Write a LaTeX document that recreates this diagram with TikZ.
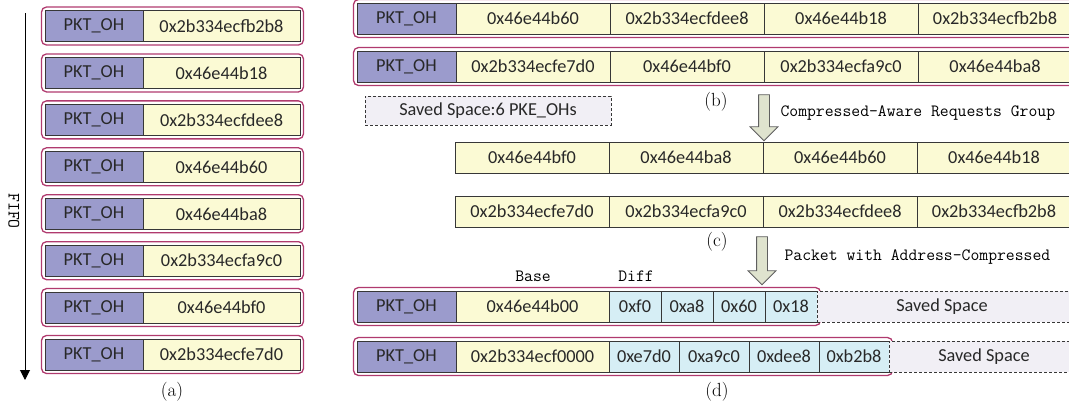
\documentclass[tikz,border=0pt]{standalone}
\usepackage{fontspec}
\newfontfamily\cellfont{Carlito}
\usetikzlibrary{arrows.meta, positioning, fit, shapes.arrows}

\definecolor{pktblue}{RGB}{155,155,204}
\definecolor{addryellow}{RGB}{251,250,212}
\definecolor{diffcyan}{RGB}{214,238,245}
\definecolor{savedgray}{RGB}{241,239,245}
\definecolor{framerose}{RGB}{176,58,110}
\definecolor{cellgray}{RGB}{55,55,55}
\definecolor{textgray}{RGB}{40,40,40}
\definecolor{arrowgreen}{RGB}{223,227,206}
\definecolor{arrowgray}{RGB}{95,95,95}

\begin{document}
\begin{tikzpicture}[x=1pt, y=-1pt, node distance=0pt,
    cell/.style={rectangle, draw=cellgray, line width=0.8pt, minimum height=31pt, inner sep=0pt, outer sep=0pt, text=textgray, font=\cellfont\fontsize{18.3}{19}\selectfont},
    pkt/.style={cell, fill=pktblue, minimum width=99pt},
    addr/.style={cell, fill=addryellow, minimum width=154pt},
    diff/.style={cell, fill=diffcyan},
    saved/.style={cell, fill=savedgray, dash pattern=on 3pt off 2pt},
    frame/.style={draw=framerose, line width=1.3pt, rounded corners=5pt, inner sep=3.5pt},
    bigarrow/.style={single arrow, draw=arrowgray, fill=arrowgreen, line width=0.8pt, shape border rotate=270, inner sep=5pt, single arrow head extend=8.5pt},
    sublabel/.style={font=\fontsize{19}{19}\selectfont},
    monotext/.style={font=\ttfamily\fontsize{17.2}{18}\selectfont}]

    \useasboundingbox (0,0) rectangle (1069,408);

    % (a) FIFO queue
    \coordinate (fifotop) at (25,13);
    \coordinate (fifobot) at (25,380);
    \draw[-{Triangle[width=10pt,length=10pt]}, line width=1pt] (fifotop) -- (fifobot);
    \node[monotext, rotate=-90] (fifo) at (14,211) {FIFO};
    \foreach \addr [count=\i] in {0x2b334ecfb2b8, 0x46e44b18, 0x2b334ecfdee8, 0x46e44b60,
        0x46e44ba8, 0x2b334ecfa9c0, 0x46e44bf0, 0x2b334ecfe7d0} {
      \node[pkt, minimum width=98pt, anchor=west] (q\i p) at (45,{26+46.93*(\i-1)}) {PKT\_OH};
      \node[addr, minimum width=157pt, right=of q\i p] (q\i a) {\addr};
      \node[frame, fit=(q\i p)(q\i a)] (q\i f) {};
    }
    \node[sublabel] (laba) at (172,392) {(a)};

    % (b) packed requests
    \node[pkt, anchor=west] (b1p) at (357,18.5) {PKT\_OH};
    \node[addr, right=of b1p] (b1a) {0x46e44b60};
    \node[addr, right=of b1a] (b1b) {0x2b334ecfdee8};
    \node[addr, right=of b1b] (b1c) {0x46e44b18};
    \node[addr, right=of b1c] (b1d) {0x2b334ecfb2b8};
    \node[frame, fit=(b1p)(b1d)] (b1f) {};
    \node[pkt, anchor=west] (b2p) at (357,66.5) {PKT\_OH};
    \node[addr, right=of b2p] (b2a) {0x2b334ecfe7d0};
    \node[addr, right=of b2a] (b2b) {0x46e44bf0};
    \node[addr, right=of b2b] (b2c) {0x2b334ecfa9c0};
    \node[addr, right=of b2c] (b2d) {0x46e44ba8};
    \node[frame, fit=(b2p)(b2d)] (b2f) {};
    \node[saved, minimum width=246pt, minimum height=29pt] (savedoh) at (488,110.5) {Saved Space:6 PKE\_OHs};
    \node[sublabel] (labb) at (716,102) {(b)};

    \node[bigarrow, minimum height=46pt] (arrgroup) at (764,115) {};
    \node[monotext, anchor=west] (grouptext) at (777,113) {Compressed-Aware Requests Group};

    % (c) grouped addresses
    \node[addr, anchor=west] (c1a) at (455,157.5) {0x46e44bf0};
    \node[addr, right=of c1a] (c1b) {0x46e44ba8};
    \node[addr, right=of c1b] (c1c) {0x46e44b60};
    \node[addr, right=of c1c] (c1d) {0x46e44b18};
    \node[addr, anchor=west] (c2a) at (455,211.5) {0x2b334ecfe7d0};
    \node[addr, right=of c2a] (c2b) {0x2b334ecfa9c0};
    \node[addr, right=of c2b] (c2c) {0x2b334ecfdee8};
    \node[addr, right=of c2c] (c2d) {0x2b334ecfb2b8};
    \node[sublabel] (labc) at (717,242) {(c)};

    \node[bigarrow, minimum height=48pt] (arrpacket) at (762,258) {};
    \node[monotext, anchor=west] (packettext) at (781,257) {Packet with Address-Compressed};

    % (d) compressed packets
    \node[monotext] (base) at (533,276) {Base};
    \node[monotext] (diff) at (636,276) {Diff};
    \node[pkt, anchor=west] (d1p) at (357,306.5) {PKT\_OH};
    \node[addr, minimum width=153pt, right=of d1p] (d1a) {0x46e44b00};
    \node[diff, minimum width=52pt, right=of d1a] (d1b) {0xf0};
    \node[diff, minimum width=52pt, right=of d1b] (d1c) {0xa8};
    \node[diff, minimum width=52pt, right=of d1c] (d1d) {0x60};
    \node[diff, minimum width=52pt, right=of d1d] (d1e) {0x18};
    \node[frame, fit=(d1p)(d1e)] (d1f) {};
    \node[saved, minimum width=260pt, right=of d1e] (d1s) {\hspace*{-10pt}Saved Space};
    \node[pkt, anchor=west] (d2p) at (357,356.5) {PKT\_OH};
    \node[addr, minimum width=153pt, right=of d2p] (d2a) {0x2b334ecf0000};
    \node[diff, minimum width=70pt, right=of d2a] (d2b) {0xe7d0};
    \node[diff, minimum width=70pt, right=of d2b] (d2c) {0xa9c0};
    \node[diff, minimum width=70pt, right=of d2c] (d2d) {0xdee8};
    \node[diff, minimum width=70pt, right=of d2d] (d2e) {0xb2b8};
    \node[frame, fit=(d2p)(d2e)] (d2f) {};
    \node[saved, minimum width=190pt, right=of d2e] (d2s) {Saved Space};
    \node[sublabel] (labd) at (717,392) {(d)};
\end{tikzpicture}
\end{document}
